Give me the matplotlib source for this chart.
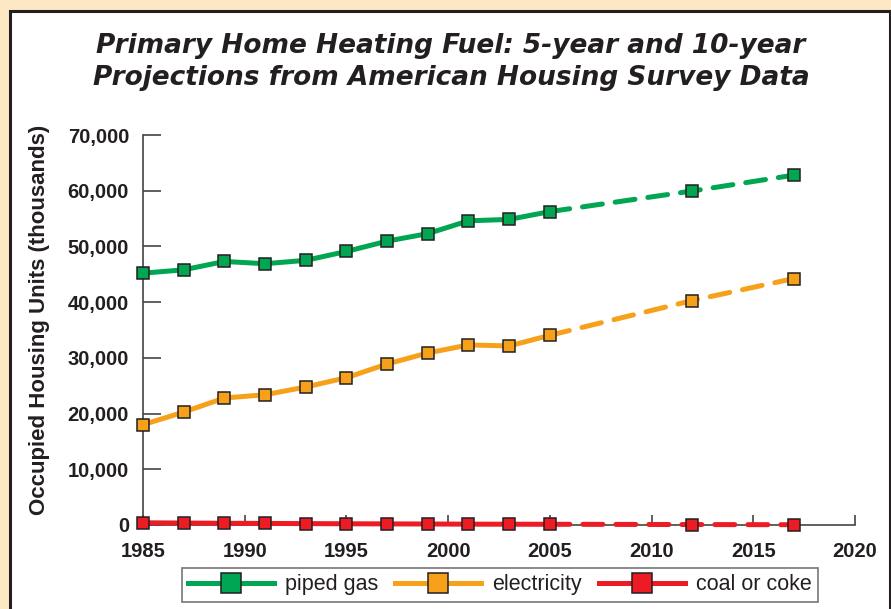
import matplotlib
matplotlib.use("Agg")
import matplotlib.pyplot as plt
from matplotlib.patches import Rectangle
from matplotlib.lines import Line2D
from matplotlib.ticker import FuncFormatter

# survey years (every 2 years) and the 5/10-year projections
years = [1985, 1987, 1989, 1991, 1993, 1995, 1997, 1999, 2001, 2003, 2005]
proj_years = [2012, 2017]

gas = [45200, 45800, 47300, 46900, 47500, 49100, 50950, 52300, 54600, 54850, 56250]
gas_proj = [59950, 62800]
elec = [18000, 20270, 22790, 23380, 24770, 26440, 28900, 30880, 32320, 32140, 34050]
elec_proj = [40290, 44240]
coal = [400, 350, 310, 280, 250, 220, 200, 180, 150, 140, 130]
coal_proj = [80, 50]

labels = ["piped gas", "electricity", "coal or coke"]
colors = ["#00A651", "#F7A11A", "#ED1C24"]

xticks = [1985, 1990, 1995, 2000, 2005, 2010, 2015, 2020]
yticks = [0, 10000, 20000, 30000, 40000, 50000, 60000, 70000]

INK = "#231F20"
BEIGE = "#FDE8C4"

fig = plt.figure(figsize=(8.91, 6.09), dpi=100)
fig.patch.set_facecolor(BEIGE)

# white panel with dark frame
fig.add_artist(Rectangle((10 / 891, -0.02), 880 / 891, 1.02 - 11 / 609,
                         transform=fig.transFigure, facecolor="white",
                         edgecolor=INK, linewidth=2.2, zorder=0))

ax = fig.add_axes([143 / 891, 84 / 609, 712 / 891, 390 / 609])
ax.set_facecolor("none")

series = [(gas, gas_proj), (elec, elec_proj), (coal, coal_proj)]
for (vals, pvals), col in zip(series, colors):
    ax.plot(years, vals, color=col, lw=3.6, solid_capstyle="round",
            clip_on=False, zorder=3)
    ax.plot([years[-1]] + proj_years, [vals[-1]] + pvals, color=col, lw=3.6,
            linestyle=(0, (4, 2.6)), dash_capstyle="round", clip_on=False, zorder=3)
    ax.plot(years + proj_years, vals + pvals, linestyle="none", marker="s",
            markersize=8, markerfacecolor=col, markeredgecolor=INK,
            markeredgewidth=1.1, clip_on=False, zorder=4)

ax.set_xlim(1985, 2020)
ax.set_ylim(0, 70000)
ax.set_xticks(xticks)
ax.set_yticks(yticks)
ax.yaxis.set_major_formatter(FuncFormatter(lambda v, p: f"{int(v):,}"))

for s in ["top", "right"]:
    ax.spines[s].set_visible(False)
for s in ["left", "bottom"]:
    ax.spines[s].set_color("#444444")
    ax.spines[s].set_linewidth(1.2)

ax.tick_params(axis="y", direction="in", length=13, width=1.2, color="#444444",
               pad=10, labelsize=14.5, labelcolor=INK)
ax.tick_params(axis="x", direction="in", length=7, width=1.2, color="#444444",
               pad=12, labelsize=14.5, labelcolor=INK)
for t in ax.get_xticklabels() + ax.get_yticklabels():
    t.set_fontfamily("Liberation Sans")
    t.set_fontweight("bold")

ax.set_ylabel("Occupied Housing Units (thousands)", fontsize=16,
              fontweight="bold", family="Liberation Sans", color=INK)
ax.yaxis.set_label_coords(-0.131, 0.525)

fig.text(0.506, 0.898, "Primary Home Heating Fuel: 5-year and 10-year\n"
         "Projections from American Housing Survey Data",
         ha="center", va="center", fontsize=19, fontstyle="italic",
         fontweight="bold", family="DejaVu Sans", color=INK, linespacing=1.33)

handles = [Line2D([0], [0], color=c, lw=3.6, marker="s", markersize=14,
                  markerfacecolor=c, markeredgecolor=INK, markeredgewidth=1.1)
           for c in colors]
leg = fig.legend(handles, labels, loc="center", bbox_to_anchor=(0.561, 0.040),
                 ncol=3, frameon=True, fancybox=False, handlelength=4.0,
                 columnspacing=0.8, handletextpad=0.5, borderpad=0.3,
                 borderaxespad=0.0, prop={"family": "Liberation Sans", "size": 15.5})
leg.get_frame().set_edgecolor("#555555")
leg.get_frame().set_linewidth(1.2)
for t in leg.get_texts():
    t.set_color(INK)

fig.savefig("out.png", dpi=100, facecolor=BEIGE)
